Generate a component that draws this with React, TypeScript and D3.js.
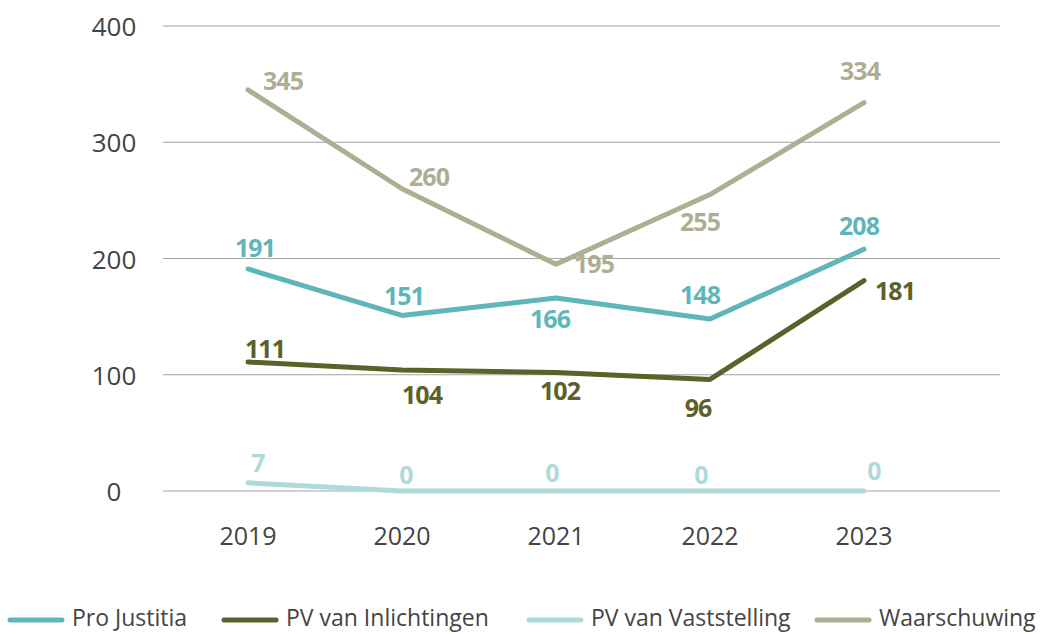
import React from "react";
import * as d3 from "d3";

const years = ["2019", "2020", "2021", "2022", "2023"];
const proJustitia = [191, 151, 166, 148, 208];
const pvInlichtingen = [111, 104, 102, 96, 181];
const pvVaststelling = [7, 0, 0, 0, 0];
const waarschuwing = [345, 260, 195, 255, 334];
const yTicks = [0, 100, 200, 300, 400];

const seriesNames = ["Pro Justitia", "PV van Inlichtingen", "PV van Vaststelling", "Waarschuwing"];
const seriesValues = [proJustitia, pvInlichtingen, pvVaststelling, waarschuwing];
const seriesColors = ["#5fb6b9", "#5b6128", "#afdada", "#afae95"];
// label offsets (dx, dy) relative to each point, per series
const labelOffsets: [number, number][][] = [
  [[7, -22], [2, -20], [-6, 20], [-10, -25], [-5, -24]],
  [[17, -14], [20, 24], [4, 18], [-12, 28], [31, 9]],
  [[10, -21], [4, -17], [-4, -19], [-9, -17], [10, -21]],
  [[35, -10], [27, -13], [38, -1], [-10, 26], [-4, -33]],
];
const legendX = [10, 224, 529, 817];
// draw order: back to front
const drawOrder = [3, 0, 1, 2];

export default function App() {
  const W = 1042, H = 634;
  const x = d3.scalePoint<string>().domain(years).range([248, 864]);
  const y = d3.scaleLinear().domain([0, 400]).range([491, 26]);
  const line = d3
    .line<number>()
    .x((_, i) => x(years[i]) as number)
    .y((d) => y(d));
  const font = "'Open Sans', sans-serif";
  return (
    <svg
      width={W}
      height={H}
      style={{ position: "absolute", left: 0, top: 0, background: "#fff" }}
      fontFamily={font}
    >
      {yTicks.map((t) => (
        <g key={t}>
          <line x1={163} x2={1000} y1={y(t)} y2={y(t)} stroke="#a3a3a3" strokeWidth={1} />
          <text x={114} y={y(t)} textAnchor="middle" dominantBaseline="central" fontSize={26} fill="#444">
            {t}
          </text>
        </g>
      ))}
      {years.map((yr) => (
        <text key={yr} x={x(yr)} y={535} textAnchor="middle" dominantBaseline="central" fontSize={25} fill="#444">
          {yr}
        </text>
      ))}
      {drawOrder.map((s) => (
        <path
          key={s}
          d={line(seriesValues[s]) || ""}
          fill="none"
          stroke={seriesColors[s]}
          strokeWidth={5}
          strokeLinecap="round"
          strokeLinejoin="round"
        />
      ))}
      {drawOrder.map((s) =>
        seriesValues[s].map((v, i) => (
          <text
            key={`${s}-${i}`}
            x={(x(years[i]) as number) + labelOffsets[s][i][0]}
            y={y(v) + labelOffsets[s][i][1]}
            textAnchor="middle"
            dominantBaseline="central"
            fontSize={25}
            fontWeight={700}
            fill={seriesColors[s]}
            letterSpacing={-1}
          >
            {v}
          </text>
        ))
      )}
      {seriesNames.map((n, s) => (
        <g key={n}>
          <line
            x1={legendX[s]}
            x2={legendX[s] + 52}
            y1={620}
            y2={620}
            stroke={seriesColors[s]}
            strokeWidth={5}
            strokeLinecap="round"
          />
          <text x={legendX[s] + 62} y={617} dominantBaseline="central" fontSize={23} fill="#444">
            {n}
          </text>
        </g>
      ))}
    </svg>
  );
}
